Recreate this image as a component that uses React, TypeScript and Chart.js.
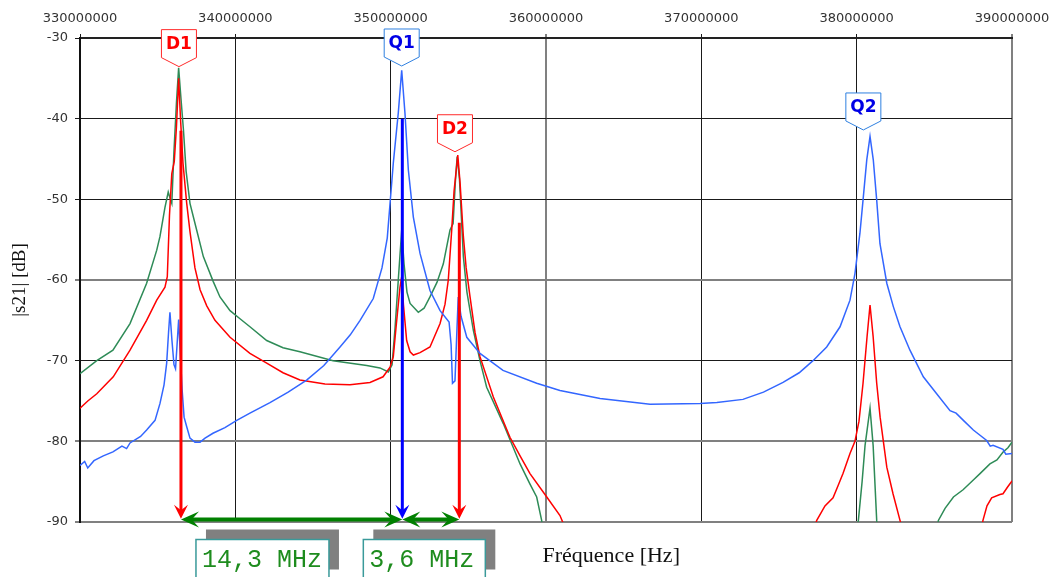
import React, { useEffect, useRef } from 'react';
import { Chart, registerables } from 'chart.js';

Chart.register(...registerables);

// ---- Data (frequency in MHz, |s21| in dB) ----
const blueFreq = [330.00, 330.30, 330.50, 330.90, 331.50, 332.12, 332.70, 333.00, 333.22, 333.90, 334.29, 334.83, 335.15, 335.41, 335.58, 335.70, 335.79, 335.92, 336.05, 336.15, 336.25, 336.35, 336.44, 336.57, 336.70, 336.87, 337.08, 337.40, 337.73, 338.05, 338.56, 339.33, 340.09, 340.94, 342.23, 343.40, 344.59, 345.70, 346.74, 347.40, 348.03, 348.88, 349.44, 349.78, 350.17, 350.49, 350.71, 350.92, 351.14, 351.46, 351.89, 352.53, 353.18, 353.76, 353.89, 353.98, 354.14, 354.27, 354.35, 354.53, 354.90, 355.75, 357.23, 359.40, 360.90, 363.48, 366.70, 369.91, 371.00, 372.68, 374.00, 375.26, 376.30, 377.19, 378.07, 378.93, 379.57, 379.89, 380.21, 380.41, 380.65, 380.86, 381.07, 381.29, 381.50, 381.94, 382.36, 382.79, 383.43, 384.29, 385.15, 386.01, 386.40, 386.87, 387.51, 388.37, 388.60, 388.78, 389.42, 389.60, 390.00];
const blueDb = [-83.0, -82.5, -83.3, -82.4, -81.8, -81.3, -80.6, -80.9, -80.2, -79.4, -78.6, -77.4, -75.3, -73.0, -70.3, -66.5, -64.0, -67.5, -70.5, -71.0, -68.0, -64.9, -68.5, -73.5, -77.0, -78.2, -79.6, -80.1, -80.1, -79.6, -79.0, -78.3, -77.4, -76.5, -75.2, -73.9, -72.4, -70.6, -68.3, -66.8, -65.0, -62.3, -58.5, -54.8, -45.5, -39.3, -34.0, -39.3, -46.4, -52.2, -56.7, -61.3, -63.8, -65.2, -68.0, -72.8, -72.5, -66.0, -62.1, -64.5, -67.1, -69.1, -71.2, -72.8, -73.7, -74.7, -75.4, -75.3, -75.2, -74.8, -73.9, -72.7, -71.5, -70.0, -68.3, -65.8, -62.5, -59.2, -54.2, -50.1, -45.1, -42.2, -45.1, -50.1, -55.5, -60.4, -63.3, -65.8, -68.7, -72.0, -74.1, -76.2, -76.5, -77.4, -78.6, -79.9, -80.6, -80.5, -81.0, -81.6, -81.5];

const redFreq = [330.00, 330.50, 331.08, 332.14, 333.22, 334.29, 334.94, 335.47, 335.62, 335.76, 335.91, 336.07, 336.21, 336.35, 336.47, 336.63, 336.87, 337.08, 337.40, 337.73, 338.16, 338.69, 339.66, 340.94, 342.02, 343.07, 344.16, 345.77, 347.38, 348.67, 349.51, 349.96, 350.17, 350.34, 350.60, 350.71, 350.82, 351.03, 351.25, 351.46, 351.89, 352.53, 353.18, 353.50, 353.71, 353.93, 354.08, 354.32, 354.47, 354.68, 354.86, 355.11, 355.43, 355.75, 356.61, 357.68, 358.33, 358.97, 360.05, 360.90, 361.29, 363.48, 375.71, 377.43, 377.96, 378.48, 378.80, 379.12, 379.57, 379.89, 380.15, 380.41, 380.67, 380.86, 381.06, 381.29, 381.51, 381.94, 382.34, 382.79, 383.11, 384.08, 387.30, 388.13, 388.39, 388.69, 389.22, 389.42, 389.74, 390.00];
const redDb = [-75.9, -75.0, -74.1, -72.0, -68.7, -65.0, -62.5, -60.9, -59.6, -52.0, -46.8, -45.3, -41.0, -35.0, -40.0, -45.5, -50.5, -54.0, -58.5, -61.2, -63.2, -65.0, -67.1, -69.1, -70.3, -71.5, -72.4, -72.9, -73.0, -72.7, -72.0, -70.8, -69.5, -66.0, -60.9, -59.6, -63.0, -67.5, -68.9, -69.3, -69.0, -68.3, -65.4, -63.0, -60.0, -53.8, -49.0, -44.5, -48.0, -54.6, -58.5, -62.1, -66.5, -69.5, -74.5, -79.5, -81.8, -84.0, -86.9, -89.2, -91.0, -100, -100, -89.8, -88.0, -87.0, -85.5, -84.0, -81.5, -80.0, -77.5, -72.8, -67.0, -63.1, -67.0, -72.8, -77.0, -83.2, -86.5, -89.8, -92.0, -100, -100, -89.8, -88.0, -87.0, -86.6, -86.5, -85.6, -84.9];

const greenFreq = [330.00, 331.08, 332.12, 333.22, 334.29, 334.94, 335.15, 335.47, 335.68, 335.79, 335.91, 336.05, 336.21, 336.35, 336.50, 336.66, 336.83, 337.08, 337.51, 337.94, 338.58, 339.01, 339.66, 340.30, 340.94, 342.02, 343.07, 344.16, 346.29, 348.46, 349.31, 349.85, 350.09, 350.28, 350.49, 350.71, 350.86, 351.05, 351.25, 351.78, 352.15, 352.53, 352.98, 353.39, 353.82, 354.02, 354.16, 354.28, 354.43, 354.68, 354.91, 355.32, 355.75, 356.18, 357.25, 358.33, 358.97, 359.40, 359.72, 359.87, 360.58, 378.93, 380.11, 380.35, 380.54, 380.86, 381.06, 381.29, 381.51, 382.79, 384.40, 385.26, 385.69, 386.23, 386.85, 387.51, 387.94, 388.58, 389.03, 389.44, 389.74, 390.00];
const greenDb = [-71.6, -70.0, -68.7, -65.4, -60.4, -56.3, -54.6, -51.0, -49.1, -49.8, -50.5, -44.0, -38.0, -33.7, -37.5, -41.4, -46.5, -50.5, -53.8, -57.1, -60.2, -62.1, -63.8, -64.8, -65.8, -67.5, -68.4, -68.9, -70.0, -70.6, -70.9, -71.4, -70.5, -66.0, -60.0, -53.8, -58.0, -61.5, -62.9, -64.0, -63.5, -62.1, -60.3, -58.0, -53.8, -53.0, -48.0, -44.7, -47.5, -57.1, -61.5, -66.2, -70.0, -73.3, -77.8, -82.8, -85.3, -86.9, -89.8, -92.0, -100, -100, -89.8, -85.0, -80.5, -75.9, -80.5, -89.8, -94.0, -100, -100, -89.8, -88.3, -86.9, -86.0, -84.8, -84.0, -82.8, -82.3, -81.3, -80.8, -80.1];

// ---- Annotations ----
const markerNames = ['D1', 'Q1', 'D2', 'Q2'];
const markerFreq = [336.37, 350.71, 354.14, 380.43];
const markerDb = [-33.55, -33.47, -44.1, -41.4];
const markerText = ['#ff0000', '#0000e6', '#ff0000', '#0000e6'];
const markerEdge = ['#ff2a2a', '#2f80e0', '#ff2a2a', '#2f80e0'];

const arrowFreqs = [336.5, 350.75, 354.42];
const arrowTopDb = [-41.5, -40.0, -52.9];
const arrowColors = ['#ff0000', '#0000ff', '#ff0000'];
const arrowBaseDb = -89.6;

const spanStart = [336.5, 350.75];
const spanEnd = [350.75, 354.42];
const spanDb = -89.7;
const spanLabels = ['14,3 MHz', '3,6 MHz'];
const spanBoxOffset = [15, -39];
const spanBoxWidth = [133, 122];

const toPoints = (f: number[], d: number[]) => f.map((v, i) => ({ x: v, y: d[i] }));

function drawHead(ctx: CanvasRenderingContext2D, tx: number, ty: number, dx: number, dy: number, len: number, hw: number, color: string) {
  const px = -dy, py = dx;
  const bx = tx - dx * len, by = ty - dy * len;
  const nx = tx - dx * len * 0.6, ny = ty - dy * len * 0.6;
  ctx.beginPath();
  ctx.moveTo(tx, ty);
  ctx.lineTo(bx + px * hw, by + py * hw);
  ctx.lineTo(nx, ny);
  ctx.lineTo(bx - px * hw, by - py * hw);
  ctx.closePath();
  ctx.fillStyle = color;
  ctx.fill();
}

const annotPlugin = {
  id: 'annot',
  afterDatasetsDraw(chart: any) {
    const ctx: CanvasRenderingContext2D = chart.ctx;
    const xs = chart.scales.x, ys = chart.scales.y;
    ctx.save();
    arrowFreqs.forEach((f, i) => {
      const x = xs.getPixelForValue(f);
      const y0 = ys.getPixelForValue(arrowTopDb[i]);
      const y1 = ys.getPixelForValue(arrowBaseDb);
      ctx.strokeStyle = arrowColors[i];
      ctx.lineWidth = 3;
      ctx.beginPath();
      ctx.moveTo(x, y0);
      ctx.lineTo(x, y1 - 8);
      ctx.stroke();
      drawHead(ctx, x, y1, 0, 1, 14, 7, arrowColors[i]);
    });
    spanStart.forEach((f, i) => {
      const xa = xs.getPixelForValue(f);
      const xb = xs.getPixelForValue(spanEnd[i]);
      const y = ys.getPixelForValue(spanDb);
      ctx.strokeStyle = '#008000';
      ctx.lineWidth = 4;
      ctx.beginPath();
      ctx.moveTo(xa + 10, y);
      ctx.lineTo(xb - 10, y);
      ctx.stroke();
      drawHead(ctx, xa, y, -1, 0, 18, 8, '#008000');
      drawHead(ctx, xb, y, 1, 0, 18, 8, '#008000');
    });
    const w = 35, h = 28, p = 9;
    markerNames.forEach((name, i) => {
      const tx = xs.getPixelForValue(markerFreq[i]);
      const ty = ys.getPixelForValue(markerDb[i]);
      ctx.beginPath();
      ctx.moveTo(tx - w / 2, ty - p - h);
      ctx.lineTo(tx + w / 2, ty - p - h);
      ctx.lineTo(tx + w / 2, ty - p);
      ctx.lineTo(tx, ty);
      ctx.lineTo(tx - w / 2, ty - p);
      ctx.closePath();
      ctx.fillStyle = '#ffffff';
      ctx.fill();
      ctx.lineWidth = 1;
      ctx.strokeStyle = markerEdge[i];
      ctx.stroke();
      ctx.fillStyle = markerText[i];
      ctx.font = 'bold 17px "DejaVu Sans"';
      ctx.textAlign = 'center';
      ctx.textBaseline = 'middle';
      ctx.fillText(name, tx, ty - p - h / 2 + 1);
    });
    ctx.restore();
  },
  afterDraw(chart: any) {
    const ctx: CanvasRenderingContext2D = chart.ctx;
    const xs = chart.scales.x;
    const area = chart.chartArea;
    ctx.save();
    spanStart.forEach((f, i) => {
      const left = xs.getPixelForValue(f) + spanBoxOffset[i];
      const top = area.bottom + 17.5;
      const bw = spanBoxWidth[i];
      ctx.fillStyle = '#808080';
      ctx.fillRect(left + 10, top - 10, bw, 40);
      ctx.fillStyle = '#ffffff';
      ctx.fillRect(left, top, bw, 50);
      ctx.strokeStyle = '#3a9a9a';
      ctx.lineWidth = 1.5;
      ctx.strokeRect(left, top, bw, 50);
      ctx.fillStyle = '#1e8c1e';
      ctx.font = '25px "Liberation Mono"';
      ctx.textAlign = 'left';
      ctx.textBaseline = 'alphabetic';
      ctx.fillText(spanLabels[i], left + 6, top + 27);
    });
    ctx.fillStyle = '#111';
    ctx.font = '22px "Liberation Serif"';
    ctx.textAlign = 'center';
    ctx.textBaseline = 'alphabetic';
    ctx.fillText('Fréquence [Hz]', area.left + (area.right - area.left) * 0.57, area.bottom + 40);
    ctx.restore();
  },
};

export default function App() {
  const ref = useRef<HTMLCanvasElement>(null);
  useEffect(() => {
    const grayX = [360, 390];
    const grayY = [-60, -80, -90];
    const chart = new Chart(ref.current as HTMLCanvasElement, {
      type: 'line',
      data: {
        datasets: [
          { data: toPoints(blueFreq, blueDb), borderColor: '#3366ff', borderWidth: 1.5, pointRadius: 0, tension: 0 },
          { data: toPoints(redFreq, redDb), borderColor: '#ff0000', borderWidth: 1.5, pointRadius: 0, tension: 0 },
          { data: toPoints(greenFreq, greenDb), borderColor: '#2e8b57', borderWidth: 1.5, pointRadius: 0, tension: 0 },
        ],
      },
      options: {
        responsive: false,
        animation: false,
        layout: { padding: { left: 0, top: 0, right: 41, bottom: 55 } },
        plugins: { legend: { display: false }, tooltip: { enabled: false } },
        scales: {
          x: {
            type: 'linear',
            position: 'top',
            min: 330,
            max: 390,
            afterFit: (s: any) => { s.height = 38; s.paddingLeft = 0; s.paddingRight = 0; },
            ticks: {
              stepSize: 10,
              autoSkip: false,
              maxRotation: 0,
              padding: 8,
              color: '#333',
              font: { family: 'DejaVu Sans', size: 13 },
              callback: (v: any) => String(Math.round(Number(v) * 1e6)),
            },
            grid: {
              tickLength: 4,
              color: (c: any) => (grayX.includes(c.tick?.value) ? '#808080' : '#1a1a1a'),
              lineWidth: (c: any) => (grayX.includes(c.tick?.value) ? 2 : 1),
            },
            border: { color: '#222', width: 2 },
          },
          y: {
            min: -90,
            max: -30,
            afterFit: (s: any) => { s.width = 80; s.paddingTop = 0; s.paddingBottom = 0; },
            ticks: {
              stepSize: 10,
              padding: 7,
              color: '#333',
              font: { family: 'DejaVu Sans', size: 13 },
              callback: (v: any) => String(v),
            },
            title: {
              display: true,
              text: '|s21| [dB]',
              color: '#111',
              font: { family: 'Liberation Serif', size: 19 },
              padding: { top: 9, bottom: 0 },
            },
            grid: {
              tickLength: 5,
              color: (c: any) => (grayY.includes(c.tick?.value) ? '#808080' : '#1a1a1a'),
              lineWidth: (c: any) => (grayY.includes(c.tick?.value) ? 2 : 1),
            },
            border: { color: '#111', width: 2 },
          },
        },
      },
      plugins: [annotPlugin],
    } as any);
    return () => chart.destroy();
  }, []);
  return (
    <div style={{ position: 'absolute', left: 0, top: 0, width: 1053, height: 577, background: '#fff' }}>
      <canvas ref={ref} width={1053} height={577} style={{ display: 'block' }} />
    </div>
  );
}
